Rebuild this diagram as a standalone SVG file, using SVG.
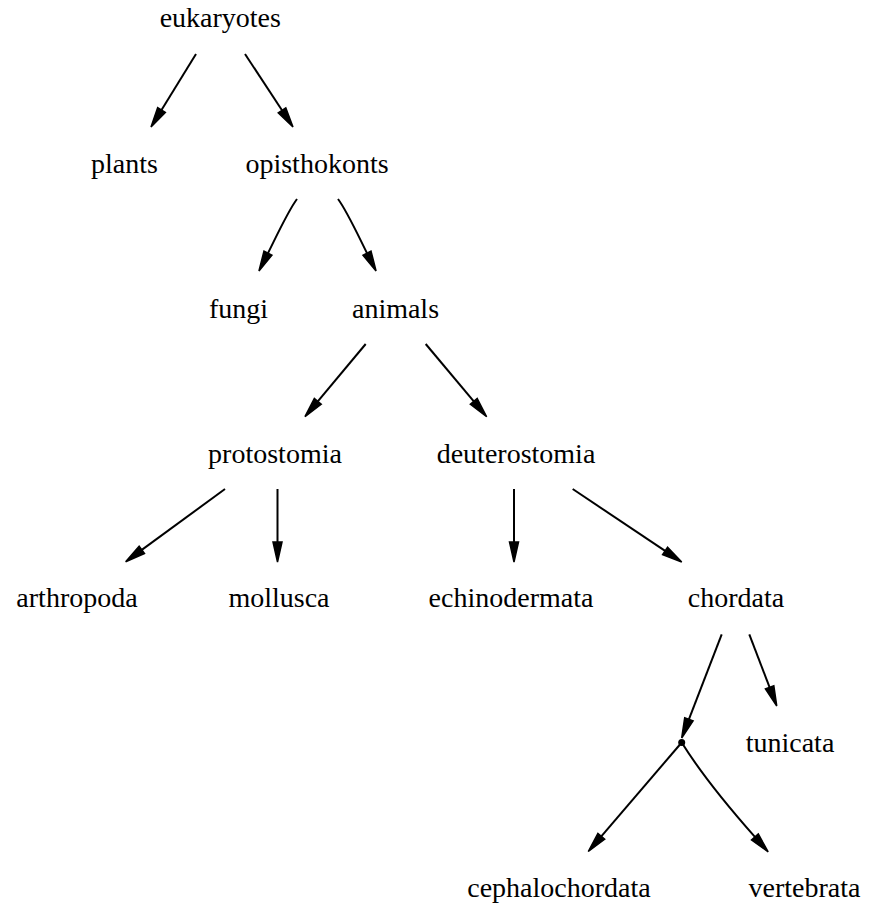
<svg xmlns="http://www.w3.org/2000/svg" width="869" height="906" viewBox="0 0 869 906">
<style>
text{font-family:"Liberation Serif","Times New Roman",serif;font-size:28px;fill:#000;text-anchor:middle}
.e{fill:none;stroke:#000;stroke-width:2;marker-end:url(#ah)}
</style>
<defs>
<marker id="ah" markerUnits="userSpaceOnUse" markerWidth="22" markerHeight="12" refX="0" refY="5" orient="auto" viewBox="0 0 22 10" overflow="visible">
<path d="M0,0.5 L20,5 L0,9.5 z" fill="#000" stroke="#000" stroke-width="1.5"/>
</marker>
</defs>
<rect width="869" height="906" fill="#fff"/>
<g id="connectors">
<path class="e" d="M196,54 L161.5,110"/>
<path class="e" d="M245,54 L282,110.3"/>
<path class="e" d="M297,199 C288,211 274.8,239.7 268,253.1"/>
<path class="e" d="M338,199 C347,211 360.2,239.7 367,253.1"/>
<path class="e" d="M365.7,344 L317.8,401.3"/>
<path class="e" d="M425.7,344 L473.8,401.4"/>
<path class="e" d="M225,489 L141.8,549.9"/>
<path class="e" d="M277.5,489 L277.5,542"/>
<path class="e" d="M514,489 L514,542"/>
<path class="e" d="M572.7,489 L665.1,550.9"/>
<path class="e" d="M721.7,634.3 L688.9,719.3"/>
<path class="e" d="M749.3,634.3 L769.6,687.3"/>
<path class="e" d="M681.7,742.5 L601.3,836.3"/>
<path class="e" d="M681.7,742.5 C697.6,768 724,802 754.9,836.9"/>
</g>
<g id="eukaryotes"><text x="220.3" y="27">eukaryotes</text></g>
<g id="plants"><text x="124.5" y="173">plants</text></g>
<g id="opisthokonts"><text x="317" y="173">opisthokonts</text></g>
<g id="fungi"><text x="238.5" y="318">fungi</text></g>
<g id="animals"><text x="395.5" y="318">animals</text></g>
<g id="protostomia"><text x="275" y="463">protostomia</text></g>
<g id="deuterostomia"><text x="516" y="463">deuterostomia</text></g>
<g id="arthropoda"><text x="77" y="607">arthropoda</text></g>
<g id="mollusca"><text x="279" y="607">mollusca</text></g>
<g id="echinodermata"><text x="511" y="607">echinodermata</text></g>
<g id="chordata"><text x="736" y="607">chordata</text></g>
<g id="tunicata"><text x="790" y="752">tunicata</text></g>
<g id="junction"><circle cx="681.7" cy="742.5" r="3.5" fill="#000"/></g>
<g id="cephalochordata"><text x="559" y="897">cephalochordata</text></g>
<g id="vertebrata"><text x="804.5" y="897">vertebrata</text></g>
</svg>
